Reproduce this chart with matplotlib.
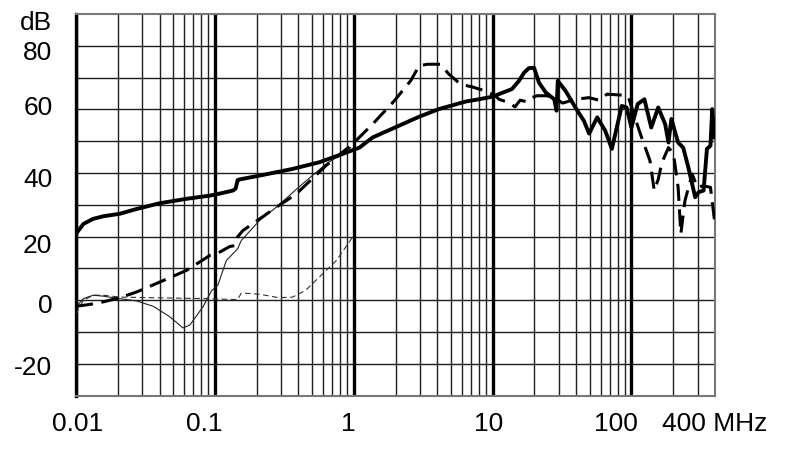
import numpy as np
import matplotlib
matplotlib.use('Agg')
import matplotlib.pyplot as plt

plt.rcParams['font.family'] = ['Liberation Sans', 'DejaVu Sans']

# Thick solid curve
f_solid = [0.01, 0.0113, 0.0133, 0.0157, 0.0207, 0.0273, 0.04, 0.0625, 0.092,
           0.105, 0.135, 0.141, 0.146, 0.151, 0.21, 0.363, 0.566, 0.83, 1.1,
           1.37, 2.96, 4.1, 6.44, 8.0, 10, 11.1, 13.8, 15.5, 16.9, 18.3, 19.9,
           21.6, 24.2, 27.8, 28.9, 29.5, 33.6, 39.5, 45.5, 49.6, 56.7, 64.8,
           72.3, 85.2, 92.4, 100, 111, 124, 139, 156, 175, 185, 194, 217, 236,
           257, 288, 305, 331, 350, 371, 382, 397]
db_solid = [20.9, 24, 25.6, 26.4, 27.2, 28.7, 30.5, 31.9, 32.9,
            33.4, 34.5, 35.1, 37.8, 38.0, 39.2, 41.3, 43.4, 46, 48,
            51.2, 57.7, 60.1, 62.5, 63.2, 64, 64.8, 66.4, 69, 71.6, 73, 73.1,
            68.4, 65.3, 63.2, 59.6, 69, 65.8, 60.6, 56.4, 52.4, 57.5, 53.3,
            47.6, 61.1, 60.6, 54.3, 61.7, 63.2, 54.3, 60.6, 55.4, 49.6, 57,
            49.6, 48, 41.8, 32.4, 34, 34.5, 47.6, 48.6, 60.1, 51.2]

# Thick dashed curve
f_dash = [0.01, 0.0126, 0.0157, 0.0207, 0.0273, 0.04, 0.0625, 0.092, 0.105,
          0.128, 0.14, 0.145, 0.159, 0.276, 0.385, 0.63, 0.98, 1.37, 1.96,
          2.57, 2.96, 3.39, 4.2, 4.85, 5.88, 7.1, 8.9, 10.5, 11.1, 13, 14.5,
          15.8, 17.7, 19.2, 20.9, 24.6, 28, 32, 39.5, 49.6, 58.4, 66.8, 85.2,
          95, 105, 116, 136, 146, 156, 166, 185, 201, 217, 227, 243, 274, 298,
          330, 371, 397]
db_dash = [-1.9, -1.3, -0.5, 0.8, 2.6, 5.7, 9.4, 14.1, 14.8,
           16.9, 17.2, 19.8, 21.9, 29.2, 33.4, 42.3, 49.1, 55.4, 62.7,
           69, 73.7, 74.2, 74.2, 71.1, 67.9, 67.1, 65.8, 64.3, 63.2, 62.2, 60.8,
           62.9, 62.4, 63.7, 64.3, 64.3, 63.5, 62, 63.2, 63.7, 62.9, 64.8, 64.5,
           64, 58, 52.3, 43.9, 34.5, 38, 43.4, 48, 46, 35.5, 20.9, 31.3, 39.7,
           35.5, 36, 35.5, 25]

# Thin solid curve
f_thin = [0.01, 0.0113, 0.0133, 0.0157, 0.0207, 0.0273, 0.036, 0.0474, 0.059,
          0.066, 0.082, 0.095, 0.105, 0.121, 0.146, 0.155, 0.21, 0.276, 0.428,
          0.63, 0.75, 0.95]
db_thin = [-2.1, 0.5, 1.6, 1.3, 0.5, -0.2, -1.9, -5.2, -8.7,
           -7.8, -2.1, 3.1, 4.7, 12.5, 16.2, 18.8, 25.1, 29.2, 36.6,
           42.8, 44.9, 48]

# Thin dashed curve
f_thin_dash = [0.01, 0.0113, 0.0133, 0.0157, 0.0207, 0.036, 0.092, 0.146,
               0.155, 0.21, 0.29, 0.363, 0.45, 0.566, 0.75, 0.98]
db_thin_dash = [-4.2, 0, 1.6, 1.6, 1, 0.8, 0.5, 0.2,
                2.3, 1.9, 0.8, 1, 3.1, 7.3, 12.5, 19.8]

# label positions as they sit in the original (slightly off the grid lines)
x_label_pos = [0.0102, 0.0845, 0.922, 9.37, 77.6, 400]
x_labels = ['0.01', '0.1', '1', '10', '100', '400 MHz']
y_label_pos = [-20.4, -1.0, 17.7, 38.7, 61.1, 78.4, 87.8]
y_labels = ['-20', '0', '20', '40', '60', '80', 'dB']


def main():
    fig = plt.figure(figsize=(7.9, 4.54), dpi=100)
    ax = fig.add_axes([76 / 790, 1 - 395.7 / 454, 639 / 790, 381.7 / 454])
    ax.set_xscale('log')
    ax.set_xlim(0.01, 400)
    ax.set_ylim(-30, 90)

    grid = '#1e1e1e'
    # horizontal grid every 10 dB
    for y in range(-20, 90, 10):
        ax.axhline(y, color=grid, lw=1.0, zorder=1)
    # minor verticals 2..9 per decade
    for dec in [0.01, 0.1, 1, 10, 100]:
        for k in range(2, 10):
            if dec * k < 400:
                ax.axvline(dec * k, color=grid, lw=1.0, zorder=1)
    for dec in [0.01, 0.1, 1, 10, 100]:
        ax.axvline(dec, color='black', lw=2.4, zorder=1)

    for side in ['top', 'right', 'bottom']:
        ax.spines[side].set_color('#777777')
        ax.spines[side].set_linewidth(1.5)
    ax.spines['left'].set_linewidth(2.4)

    ax.plot(f_thin_dash, db_thin_dash, color='#333333', lw=0.8,
            linestyle=(0, (5, 3.2)), zorder=3)
    ax.plot(f_thin, db_thin, color='#222222', lw=0.8, zorder=3)
    ax.plot(f_dash, db_dash, color='black', lw=2.2,
            linestyle=(0, (5.6, 2.8)), zorder=4)
    ax.plot(f_solid, db_solid, color='black', lw=2.8, zorder=5,
            solid_joinstyle='round')

    ax.set_xticks(x_label_pos)
    ax.set_xticklabels(x_labels)
    ax.xaxis.set_minor_locator(matplotlib.ticker.NullLocator())
    ax.set_yticks(y_label_pos)
    ax.set_yticklabels(y_labels)
    ax.tick_params(length=0, labelsize=19)
    ax.tick_params(axis='x', pad=12)
    ax.tick_params(axis='y', pad=17)

    fig.savefig('out.png', dpi=100)


if __name__ == '__main__':
    main()
